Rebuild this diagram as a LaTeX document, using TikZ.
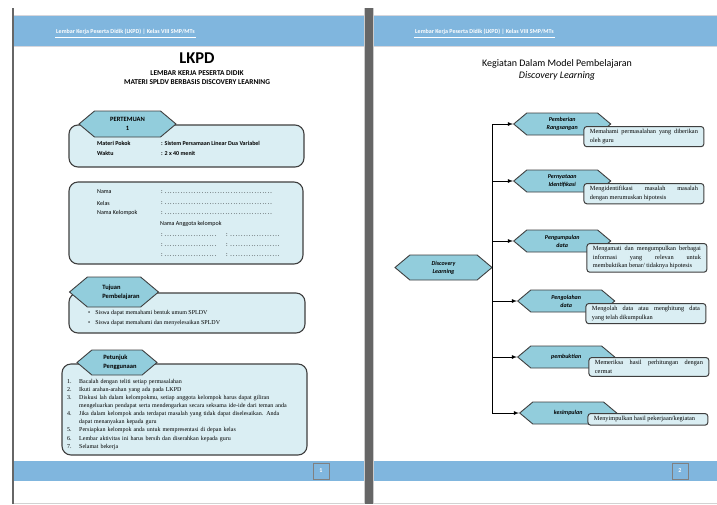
\documentclass[tikz,border=0pt]{standalone}
\usepackage{fontspec}
\setmainfont{Liberation Serif}
\setsansfont{Carlito}
\usepackage{enumitem}
\usetikzlibrary{positioning,shapes.symbols}

\definecolor{band}{HTML}{80B6DE}
\definecolor{hexfill}{HTML}{92CDDC}
\definecolor{boxfill}{HTML}{DAEEF3}
\definecolor{edge}{HTML}{3F3F3F}
\definecolor{bar}{HTML}{666666}

\tikzset{
  hexa/.style={signal, signal to=west and east, signal pointer angle=80,
    draw=edge, fill=hexfill, line width=0.9pt, inner sep=1pt, align=left,
    font=\sffamily\bfseries\fontsize{6.5}{9}\selectfont},
  stephex/.style={hexa, align=center, minimum width=97pt, minimum height=22pt,
    font=\sffamily\bfseries\itshape\fontsize{6}{8}\selectfont},
  panel/.style={draw=edge, fill=boxfill, rounded corners=9pt, line width=1.1pt},
  desc/.style={draw=edge, fill=boxfill, rounded corners=3pt, line width=1pt,
    text width=108pt, inner xsep=6pt, inner ysep=3pt, align=justify,
    font=\fontsize{6.3}{8.5}\selectfont},
  head/.style={text=white, inner sep=1pt, font=\sffamily\bfseries\fontsize{6}{7}\selectfont},
  info/.style={anchor=west, inner sep=0pt, font=\sffamily\fontsize{6}{7}\selectfont},
  pgnum/.style={draw=gray, line width=1pt, minimum size=16pt, inner sep=0pt,
    text=white, font=\sffamily\bfseries\fontsize{6}{7}\selectfont}
}

\begin{document}
\begin{tikzpicture}[x=1pt, y=-1pt]
\useasboundingbox (0,0) rectangle (717,504);
\fill[white] (0,0) rectangle (717,504);

% pages
\fill[band] (13,16) rectangle (365,46);
\fill[band] (373,16) rectangle (717,46);
\draw[blue!8!gray!30] (13,15.5) -- (717,15.5) (13,46.5) -- (717,46.5);
\fill[band] (13,461) rectangle (365,481);
\fill[band] (373,461) rectangle (717,481);
\draw[gray!35, line width=1pt] (13,503) -- (717,503);
\draw[bar, line width=1.5pt] (13,8) -- (13,504);
\fill[bar] (365,8) rectangle (373,504);
\draw[gray!40] (364.5,8) -- (364.5,504) (373.5,8) -- (373.5,504);

\node[head, anchor=west] (h1) at (55,32) {Lembar Kerja Peserta Didik (LKPD) | Kelas VIII SMP/MTs};
\draw[white, line width=0.8pt] ([yshift=-1pt]h1.south west) -- ([yshift=-1pt]h1.south east);
\node[head, anchor=west] (h2) at (414,32) {Lembar Kerja Peserta Didik (LKPD) | Kelas VIII SMP/MTs};
\draw[white, line width=0.8pt] ([yshift=-1pt]h2.south west) -- ([yshift=-1pt]h2.south east);
\node[pgnum] (pg1) at (321,471) {1};
\node[pgnum] (pg2) at (680,471) {2};

% page 1
\node[font=\sffamily\bfseries\fontsize{16.5}{18}\selectfont] (lkpd) at (197,58) {LKPD};
\node[align=center, font=\sffamily\bfseries\fontsize{7.4}{9}\selectfont] (sub) at (197,78)
  {LEMBAR KERJA PESERTA DIDIK\\MATERI SPLDV BERBASIS DISCOVERY LEARNING};

\draw[panel] (69,125) rectangle (304,167);
\node[hexa, align=center, minimum width=97pt, minimum height=26pt] (pert) at (127.5,124) {PERTEMUAN\\1};
\node[info, font=\sffamily\bfseries\fontsize{6}{7}\selectfont] (mp) at (97,143) {Materi Pokok};
\node[info, font=\sffamily\bfseries\fontsize{6}{7}\selectfont] (mpv) at (161,143) {: Sistem Persamaan Linear Dua Variabel};
\node[info, font=\sffamily\bfseries\fontsize{6}{7}\selectfont] (wk) at (97,153) {Waktu};
\node[info, font=\sffamily\bfseries\fontsize{6}{7}\selectfont] (wkv) at (161,153) {: 2 x 40 menit};

\draw[panel] (69,182) rectangle (303,264);
\node[info] (nm) at (97,192) {Nama};
\node[info] (nmv) at (161,192) {\makebox[112pt][l]{:\,\dotfill}};
\node[info] (kl) at (97,203) {Kelas};
\node[info] (klv) at (161,203) {\makebox[112pt][l]{:\,\dotfill}};
\node[info] (nk) at (97,213) {Nama Kelompok};
\node[info] (nkv) at (161,213) {\makebox[112pt][l]{:\,\dotfill}};
\node[info] (ang) at (160,224) {Nama Anggota kelompok};
\foreach \r/\y in {1/235,2/245,3/255}{
  \node[info] (ga\r) at (161,\y) {\makebox[56pt][l]{:\,\dotfill}};
  \node[info] (gb\r) at (226,\y) {\makebox[55pt][l]{:\,\dotfill}};
}

\draw[panel] (69,293) rectangle (305,333);
\node[hexa, minimum width=78pt, minimum height=30pt] (tuj) at (114,292) {\hspace*{14pt}Tujuan\\\hspace*{14pt}Pembelajaran};
\node[info, font=\fontsize{6}{7}\selectfont] (b1) at (88,313) {\textbullet\hspace{5pt}Siswa dapat memahami bentuk umum SPLDV};
\node[info, font=\fontsize{6}{7}\selectfont] (b2) at (88,323) {\textbullet\hspace{5pt}Siswa dapat memahami dan menyelesaikan SPLDV};

\draw[panel] (62,364) rectangle (307,455);
\node[hexa, minimum width=80pt, minimum height=25pt] (ptj) at (117,362.5) {\hspace*{6pt}Petunjuk\\\hspace*{6pt}Penggunaan};
\node[anchor=north west, inner sep=0pt, text width=225pt, font=\fontsize{6}{8.1}\selectfont] (rules) at (67,375) {%
\begin{enumerate}[label=\arabic*., leftmargin=12pt, labelwidth=8pt, labelsep=4pt, align=left, nosep]
\item Bacalah dengan teliti setiap permasalahan
\item Ikuti arahan-arahan yang ada pada LKPD
\item Diskusi lah dalam kelompokmu, setiap anggota kelompok harus dapat giliran\linebreak
mengeluarkan pendapat serta mendengarkan secara seksama ide-ide dari teman anda
\item Jika dalam kelompok anda terdapat masalah yang tidak dapat diselesaikan. Anda\linebreak
dapat menanyakan kepada guru
\item Persiapkan kelompok anda untuk mempresentasi di depan kelas
\item Lembar aktivitas ini harus bersih dan diserahkan kepada guru
\item Selamat bekerja
\end{enumerate}};

% page 2
\node[align=center, font=\sffamily\fontsize{10}{12}\selectfont] (title) at (557,70)
  {Kegiatan Dalam Model Pembelajaran\\\itshape Discovery Learning};

\node[hexa, align=center, minimum width=97pt, minimum height=25pt,
  font=\sffamily\bfseries\itshape\fontsize{6}{8}\selectfont] (dl) at (443.5,267.5) {Discovery\\Learning};

\node[stephex, anchor=west] (s1) at (513,124) {Pemberian\\Rangsangan};
\node[stephex, anchor=west] (s2) at (513,181) {Pernyataan\\Identifikasi};
\node[stephex, anchor=west] (s3) at (513,241) {Pengumpulan\\data};
\node[stephex, anchor=west] (s4) at (517,301) {Pengolahan\\data};
\node[stephex, anchor=west] (s5) at (517,357) {pembuktian};
\node[stephex, anchor=west] (s6) at (519,413) {kesimpulan};

\foreach \s in {s1,s2,s3,s4,s5,s6}
  \draw[-latex, line width=0.8pt] (dl.east) |- (\s.west);

\node[desc, below right=2pt and -28pt of s1.east] (d1) {Memahami permasalahan yang diberikan\linebreak oleh guru};
\node[desc, below right=2pt and -28pt of s2.east] (d2) {Mengidentifikasi masalah masalah\linebreak dengan merumuskan hipotesis};
\node[desc, below right=2pt and -25pt of s3.east] (d3) {Mengamati dan mengumpulkan berbagai\linebreak informasi yang relevan untuk\linebreak membuktikan benar/ tidaknya hipotesis};
\node[desc, below right=2pt and -30pt of s4.east] (d4) {Mengolah data atau menghitung data\linebreak yang telah dikumpulkan};
\node[desc, below right=0pt and -27pt of s5.east] (d5) {Memeriksa hasil perhitungan dengan\linebreak cermat};
\node[desc, below right=0pt and -30pt of s6.east] (d6) {Menyimpulkan hasil pekerjaan/kegiatan};
\end{tikzpicture}
\end{document}
